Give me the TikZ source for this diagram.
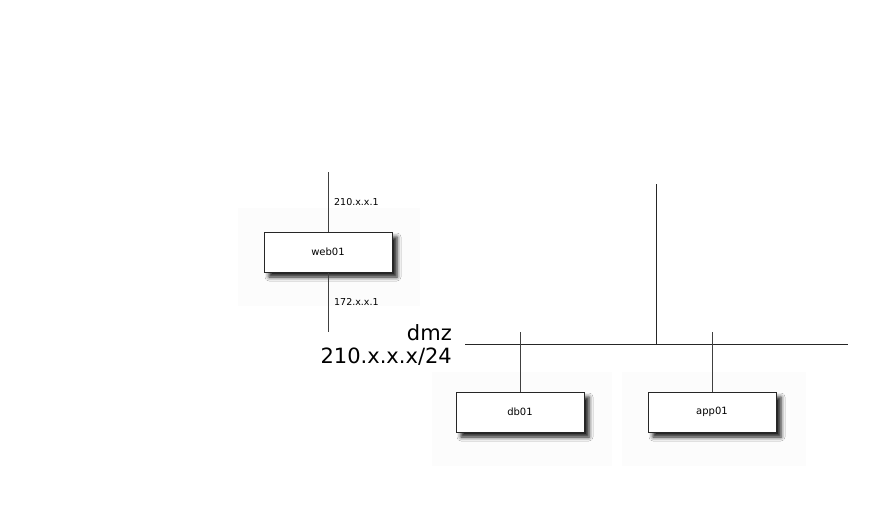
\documentclass[tikz,border=0pt]{standalone}
\usepackage{fontspec}
\setmainfont{DejaVu Sans}
\usetikzlibrary{shadows.blur}
\begin{document}
\begin{tikzpicture}[x=1pt,y=-1pt,
  hostbox/.style={draw=black!85, line width=1pt, fill=white, minimum width=128pt, minimum height=40pt,
    inner sep=0pt, font=\fontsize{10}{12}\selectfont,
    blur shadow={shadow xshift=5pt, shadow yshift=-5pt, shadow blur radius=4pt, shadow opacity=90}},
  wire/.style={draw=black!75, line width=0.7pt},
  iplabel/.style={font=\fontsize{9.5}{11}\selectfont, anchor=west, inner sep=0pt},
  netlabel/.style={font=\fontsize{21}{23}\selectfont, anchor=east, inner sep=0pt}]
  \useasboundingbox (0,0) rectangle (896,504);
  % faint backdrop panels
  \fill[black!1] (238,208) rectangle (420,306);
  \fill[black!1] (432,372) rectangle (612,466);
  \fill[black!1] (622,372) rectangle (806,466);
  % web01 and its uplink / downlink
  \coordinate (webtop) at (328,172);
  \coordinate (webbot) at (328,332);
  \node[hostbox] (web01) at (328,252) {web01};
  \draw[wire] (webtop) -- (web01.north);
  \draw[wire] (web01.south) -- (webbot);
  \node[iplabel] (webip1) at (334,202) {210.x.x.1};
  \node[iplabel] (webip2) at (334,302) {172.x.x.1};
  % dmz segment
  \coordinate (busL) at (465,344);
  \coordinate (busR) at (848,344);
  \coordinate (busUp) at (656,184);
  \coordinate (busJ) at (656,344);
  \draw[wire, draw=black!85] (busL) -- (busR);
  \draw[wire, draw=black!85] (busUp) -- (busJ);
  \node[netlabel] (dmzname) at (452,333) {dmz};
  \node[netlabel] (dmznet) at (452,357) {210.x.x.x/24};
  % hosts on the dmz
  \node[hostbox] (db01) at (520,412) {db01};
  \node[hostbox] (app01) at (712,412) {app01};
  \coordinate (dbtap) at (520,332);
  \coordinate (apptap) at (712,332);
  \draw[wire] (dbtap) -- (db01.north);
  \draw[wire] (apptap) -- (app01.north);
\end{tikzpicture}
\end{document}
